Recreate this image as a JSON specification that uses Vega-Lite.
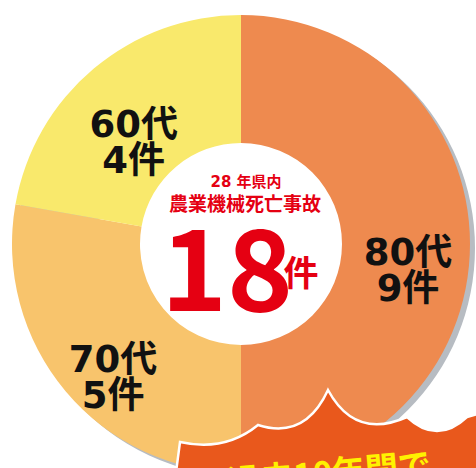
{
  "$schema": "https://vega.github.io/schema/vega-lite/v6.json",
  "autosize": "none",
  "width": 470,
  "height": 448,
  "padding": {"left": 6, "top": 20, "right": 0, "bottom": 0},
  "background": "#ffffff",
  "config": {"view": {"stroke": null}},
  "data": {
    "values": [
      {"age": "80代", "count": 9, "order": 1, "label": "80代\n9件"},
      {"age": "70代", "count": 5, "order": 2, "label": "70代\n5件"},
      {"age": "60代", "count": 4, "order": 3, "label": "60代\n4件"}
    ]
  },
  "layer": [
    {
      "mark": {"type": "arc", "outerRadius": 229, "innerRadius": 150, "xOffset": 5, "yOffset": 4, "color": "#b7bcc2"},
      "encoding": {
        "theta": {"field": "count", "type": "quantitative", "stack": true},
        "order": {"field": "order"}
      }
    },
    {
      "mark": {"type": "arc", "outerRadius": 229, "innerRadius": 101},
      "encoding": {
        "theta": {"field": "count", "type": "quantitative", "stack": true},
        "order": {"field": "order"},
        "color": {
          "field": "age", "type": "nominal",
          "scale": {"domain": ["80代", "70代", "60代"], "range": ["#ee8a4f", "#f8c46c", "#f9e96c"]},
          "legend": null
        }
      }
    },
    {
      "mark": {"type": "text", "radius": 167, "dy": 10, "fontSize": 37, "fontWeight": "bold", "font": "DejaVu Sans, Noto Sans CJK JP", "lineBreak": "\n", "lineHeight": 36, "color": "#111111", "align": "center", "baseline": "middle"},
      "encoding": {
        "theta": {"field": "count", "type": "quantitative", "stack": true},
        "order": {"field": "order"},
        "text": {"field": "label", "type": "nominal"}
      }
    },
    {
      "transform": [{"aggregate": [{"op": "sum", "field": "count", "as": "total"}]}],
      "layer": [
        {
          "mark": {"type": "text", "text": "28 年県内", "fontSize": 15, "fontWeight": "bold", "font": "DejaVu Sans, Noto Sans CJK JP", "color": "#e50012", "dx": 5, "dy": -62, "baseline": "middle"},
          "encoding": {}
        },
        {
          "mark": {"type": "text", "text": "農業機械死亡事故", "fontSize": 19, "fontWeight": "bold", "font": "Noto Sans CJK JP", "color": "#e50012", "dx": 4, "dy": -39, "baseline": "middle"},
          "encoding": {}
        },
        {
          "mark": {"type": "text", "fontSize": 112, "fontWeight": "bold", "font": "Noto Sans CJK JP", "color": "#e50012", "dx": -14, "dy": 33, "baseline": "middle"},
          "encoding": {"text": {"field": "total", "type": "quantitative"}}
        },
        {
          "mark": {"type": "text", "text": "件", "fontSize": 35, "fontWeight": "bold", "font": "Noto Sans CJK JP", "color": "#e50012", "dx": 60, "dy": 31, "baseline": "middle"},
          "encoding": {}
        },
        {
          "mark": {
            "type": "point", "filled": true, "size": 4, "opacity": 1,
            "color": "#e9581c", "stroke": "#ffffff", "strokeWidth": 2.5, "strokeOpacity": 1,
            "shape": "M -66 236 L -61 198 Q -16 208 17 181 Q 64 196 87 146 Q 114 196 166 173 Q 196 201 226 173 L 250 166 L 250 236 Z"
          },
          "encoding": {}
        },
        {
          "mark": {"type": "text", "text": "過去10年間で", "fontSize": 33, "fontWeight": "bold", "font": "Noto Sans CJK JP", "color": "#fff200", "align": "right", "baseline": "top", "angle": 355, "dx": 170, "dy": 222},
          "encoding": {}
        }
      ]
    }
  ]
}
